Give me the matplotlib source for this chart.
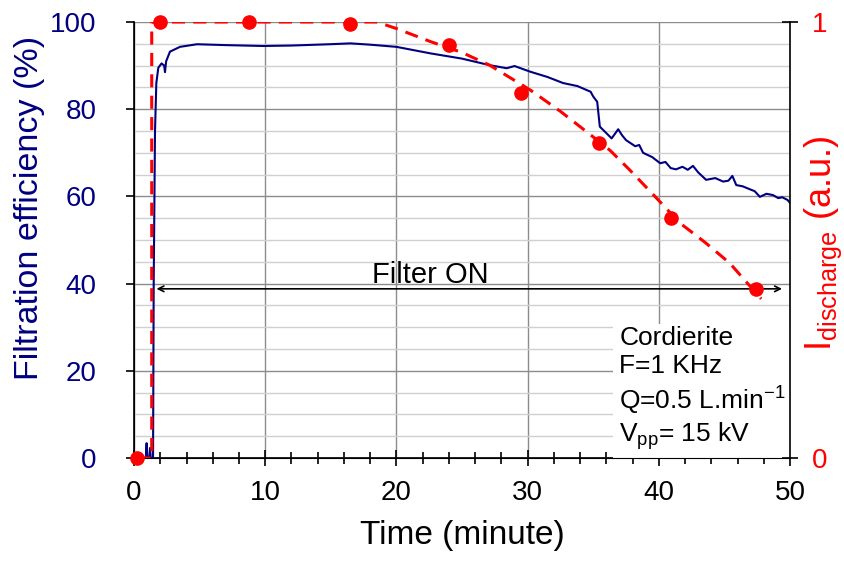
import matplotlib
matplotlib.use('Agg')
import matplotlib.pyplot as plt
from matplotlib.ticker import MultipleLocator

plt.rcParams['font.family'] = ['Liberation Sans', 'DejaVu Sans']
plt.rcParams['mathtext.fontset'] = 'custom'
plt.rcParams['mathtext.rm'] = 'Liberation Sans'

# Filtration efficiency (%) vs time (minute)
eff_time = [0.4, 0.9, 0.96, 1.0, 1.15, 1.22, 1.28, 1.45, 1.5, 1.6, 1.7, 1.85, 2.1, 2.3, 2.36, 2.45,
            2.74, 3.5, 4.8, 7.0, 9.8, 12.0, 14.9, 16.5, 18.0, 20.0, 22.6, 25.0, 27.1, 28.4,
            29.0, 30.2, 31.5, 32.7, 33.8, 34.8, 35.0, 35.3, 35.5, 35.9, 36.4, 36.9, 37.2,
            37.5, 38.2, 38.5, 38.8, 39.5, 40.1, 40.5, 40.9, 41.3, 41.8, 42.2, 42.6, 43.0,
            43.6, 44.3, 44.9, 45.3, 45.6, 45.9, 46.4, 46.8, 47.3, 47.7, 48.2, 48.7, 49.1,
            49.4, 49.8, 50.0]
eff_value = [0.0, 0.0, 3.4, 0.0, 0.0, 2.3, 0.0, 0.0, 40.0, 75.0, 86.0, 89.5, 90.5, 90.0, 88.5, 91.0,
             93.2, 94.3, 94.9, 94.7, 94.5, 94.6, 94.9, 95.1, 94.8, 94.3, 92.8, 91.6, 90.1, 89.4,
             89.9, 88.6, 87.4, 86.0, 85.3, 84.0, 82.9, 81.7, 76.0, 74.8, 73.3, 75.4, 74.0,
             72.9, 71.5, 71.8, 70.0, 69.0, 67.6, 67.9, 66.5, 66.2, 66.8, 66.1, 67.0, 65.5,
             63.8, 64.2, 63.4, 63.6, 64.7, 62.6, 62.3, 61.8, 61.2, 59.9, 60.6, 60.3, 59.6,
             59.8, 59.2, 58.5]

# Discharge current (a.u.): measured points and dashed guide
dis_time = [0.25, 1.98, 8.77, 16.46, 24.0, 29.5, 35.4, 40.9, 47.4]
dis_value = [0.0, 1.0, 1.0, 0.995, 0.947, 0.837, 0.722, 0.55, 0.388]
guide_time = [0.25, 1.35, 1.35, 18.5, 20.0, 22.6, 25.0, 27.1, 30.2, 32.5, 34.8, 36.3,
              37.8, 39.7, 41.6, 43.5, 45.4, 47.8]
guide_value = [0.0, 0.0, 1.0, 1.0, 0.985, 0.955, 0.93, 0.901, 0.844, 0.795, 0.741, 0.705,
               0.66, 0.6, 0.539, 0.495, 0.447, 0.365]

navy = '#000080'
red = '#ff0000'

fig = plt.figure(figsize=(8.45, 5.7), dpi=100)
ax = fig.add_axes([0.1586, 0.1965, 0.935 - 0.1586, 0.9614 - 0.1965])
ax2 = ax.twinx()

ax.plot(eff_time, eff_value, color=navy, lw=1.5, zorder=3)
ax.set_xlim(0, 50)
ax.set_ylim(0, 100)
ax.xaxis.set_major_locator(MultipleLocator(10))
ax.xaxis.set_minor_locator(MultipleLocator(2))
ax.yaxis.set_major_locator(MultipleLocator(20))
ax.yaxis.set_minor_locator(MultipleLocator(5))
ax.grid(True, which='major', color='#8c8c8c', lw=1.0, zorder=0)
ax.grid(True, which='minor', axis='y', color='#d0d0d0', lw=1.0, zorder=0)
ax.set_axisbelow(True)
ax.tick_params(axis='x', which='major', direction='inout', length=12, width=1.2,
               labelsize=20, pad=10)
ax.tick_params(axis='x', which='minor', direction='inout', length=8, width=1.2)
ax.tick_params(axis='y', which='major', direction='out', length=6, width=1.2,
               labelsize=20, labelcolor=navy, pad=21)
ax.tick_params(axis='y', which='minor', length=0)
for side in ['top', 'right']:
    ax.spines[side].set_visible(False)
ax.spines['left'].set_linewidth(1.2)
ax.spines['bottom'].set_linewidth(1.2)
ax.set_xlabel('Time (minute)', fontsize=24, labelpad=10)
ax.set_ylabel('Filtration efficiency (%)', fontsize=24.5, color=navy, va='center')
ax.yaxis.set_label_coords(-0.160, 0.573)

# Filter ON arrow and label
ax.annotate('', xy=(1.5, 38.8), xytext=(49.6, 38.8),
            arrowprops=dict(arrowstyle='<->', color='black', lw=1.2), zorder=4)
ax.text(22.6, 42.0, 'Filter ON', fontsize=21, ha='center', va='center', zorder=4)

ax.text(37.0, 1.4,
        'Cordierite\nF=1 KHz\nQ=0.5 L.min$^{-1}$\nV$_{\\mathregular{pp}}$= 15 kV',
        fontsize=19, ha='left', va='bottom', linespacing=1.2, zorder=4,
        bbox=dict(facecolor='white', edgecolor='none', pad=5))

ax2.plot(guide_time, guide_value, color=red, lw=2.2, dashes=(4.3, 2.7), zorder=3)
ax2.plot(dis_time, dis_value, 'o', color=red, ms=9.5, zorder=4, clip_on=False)
ax2.set_ylim(0, 1)
ax2.set_yticks([0, 1])
ax2.set_yticklabels(['0', '1'])
ax2.tick_params(axis='y', direction='inout', length=12, width=1.2, labelsize=20,
                labelcolor=red, pad=10)
ax2.spines['right'].set_linewidth(1.2)
ax2.spines['top'].set_visible(False)
fig.text(823 / 845, 1 - 243 / 570, '$\\mathregular{I_{discharge}}$ (a.u.)', fontsize=26,
         color=red, rotation=90, ha='center', va='center')

fig.savefig('out.png', dpi=100)
